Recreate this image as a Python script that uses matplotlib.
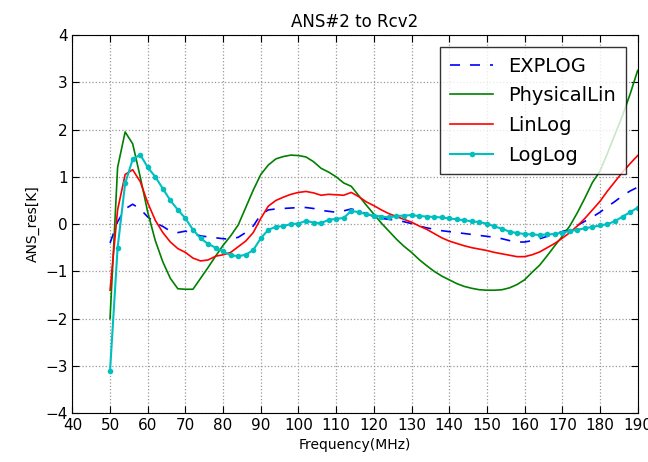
import numpy as np
import matplotlib.pyplot as plt

# frequency samples (MHz), one every 2 MHz
freq = np.arange(50, 191, 2)

explog = [-0.40, 0.05, 0.32, 0.42, 0.32, 0.15, 0.03, -0.05, -0.15, -0.18,
          -0.15, -0.20, -0.25, -0.27, -0.29, -0.31, -0.32, -0.28, -0.18, -0.04,
          0.20, 0.30, 0.32, 0.33, 0.34, 0.35, 0.35, 0.33, 0.29, 0.27,
          0.25, 0.28, 0.32, 0.28, 0.22, 0.16, 0.12, 0.10, 0.08, 0.05,
          0.01, -0.04, -0.08, -0.11, -0.14, -0.16, -0.18, -0.20, -0.22, -0.24,
          -0.26, -0.28, -0.31, -0.35, -0.38, -0.38, -0.35, -0.31, -0.26, -0.21,
          -0.16, -0.11, -0.03, 0.06, 0.15, 0.25, 0.37, 0.48, 0.60, 0.70,
          0.78]

physical_lin = [-2.00, 1.20, 1.95, 1.70, 1.00, 0.25, -0.35, -0.80, -1.15, -1.37,
                -1.38, -1.38, -1.15, -0.92, -0.68, -0.45, -0.25, -0.02, 0.35, 0.72,
                1.05, 1.25, 1.38, 1.43, 1.46, 1.45, 1.42, 1.32, 1.18, 1.10,
                1.00, 0.87, 0.80, 0.60, 0.40, 0.21, 0.02, -0.15, -0.32, -0.47,
                -0.60, -0.75, -0.88, -1.00, -1.10, -1.18, -1.26, -1.32, -1.36, -1.39,
                -1.40, -1.40, -1.39, -1.35, -1.28, -1.18, -1.02, -0.87, -0.67, -0.46,
                -0.26, -0.04, 0.24, 0.55, 0.88, 1.12, 1.50, 1.90, 2.30, 2.75,
                3.25]

lin_log = [-1.40, 0.30, 1.05, 1.15, 0.90, 0.45, 0.08, -0.18, -0.38, -0.52,
           -0.60, -0.72, -0.78, -0.76, -0.68, -0.65, -0.60, -0.48, -0.36, -0.18,
           0.12, 0.38, 0.50, 0.57, 0.63, 0.67, 0.69, 0.66, 0.61, 0.63,
           0.62, 0.61, 0.67, 0.58, 0.47, 0.39, 0.30, 0.22, 0.16, 0.10,
           0.04, -0.04, -0.11, -0.20, -0.29, -0.36, -0.41, -0.46, -0.50, -0.53,
           -0.56, -0.60, -0.63, -0.66, -0.69, -0.69, -0.65, -0.59, -0.50, -0.41,
           -0.30, -0.18, -0.04, 0.12, 0.30, 0.48, 0.70, 0.90, 1.10, 1.28,
           1.45]

log_log = [-3.10, -0.50, 0.86, 1.37, 1.47, 1.20, 1.00, 0.75, 0.50, 0.30,
           0.12, -0.12, -0.30, -0.42, -0.50, -0.58, -0.66, -0.68, -0.65, -0.55,
           -0.30, -0.12, -0.06, -0.04, 0.00, 0.01, 0.07, 0.03, 0.02, 0.09,
           0.11, 0.13, 0.28, 0.25, 0.21, 0.18, 0.16, 0.14, 0.17, 0.18,
           0.19, 0.17, 0.16, 0.15, 0.14, 0.12, 0.10, 0.08, 0.06, 0.04,
           0.01, -0.05, -0.10, -0.16, -0.19, -0.21, -0.22, -0.23, -0.22, -0.21,
           -0.18, -0.15, -0.12, -0.09, -0.06, -0.03, 0.00, 0.06, 0.16, 0.25,
           0.35]

fig = plt.figure(figsize=(6.48, 4.62), dpi=100)
ax = fig.add_axes([0.1117, 0.106, 0.8723, 0.818])

ax.plot(freq, explog, color='b', linestyle='--', dashes=(6, 6), linewidth=1.2, label='EXPLOG')
ax.plot(freq, physical_lin, color='g', linewidth=1.2, label='PhysicalLin')
ax.plot(freq, lin_log, color='r', linewidth=1.2, label='LinLog')
ax.plot(freq, log_log, color=(0, 0.75, 0.75), linewidth=1.5, marker='o',
        markersize=4, markeredgewidth=0, label='LogLog')

ax.set_xlim(40, 190)
ax.set_ylim(-4, 4)
ax.set_xticks(np.arange(40, 191, 10))
ax.set_yticks(np.arange(-4, 5, 1))
ax.tick_params(direction='in', top=True, right=True, labelsize=11, length=5)
ax.grid(True, color='0.6', linestyle=':', linewidth=0.9)

ax.set_title('ANS#2 to Rcv2', fontsize=12)
ax.set_xlabel('Frequency(MHz)', fontsize=10)
ax.set_ylabel('ANS_res[K]', fontsize=10)

leg = ax.legend(loc='upper right', fontsize=14, fancybox=False, handlelength=2.2,
                labelspacing=0.55, borderaxespad=0.6, borderpad=0.5)
leg.get_frame().set_edgecolor('black')
leg.get_frame().set_linewidth(1.0)

fig.savefig('out.png', dpi=100, facecolor='white')
